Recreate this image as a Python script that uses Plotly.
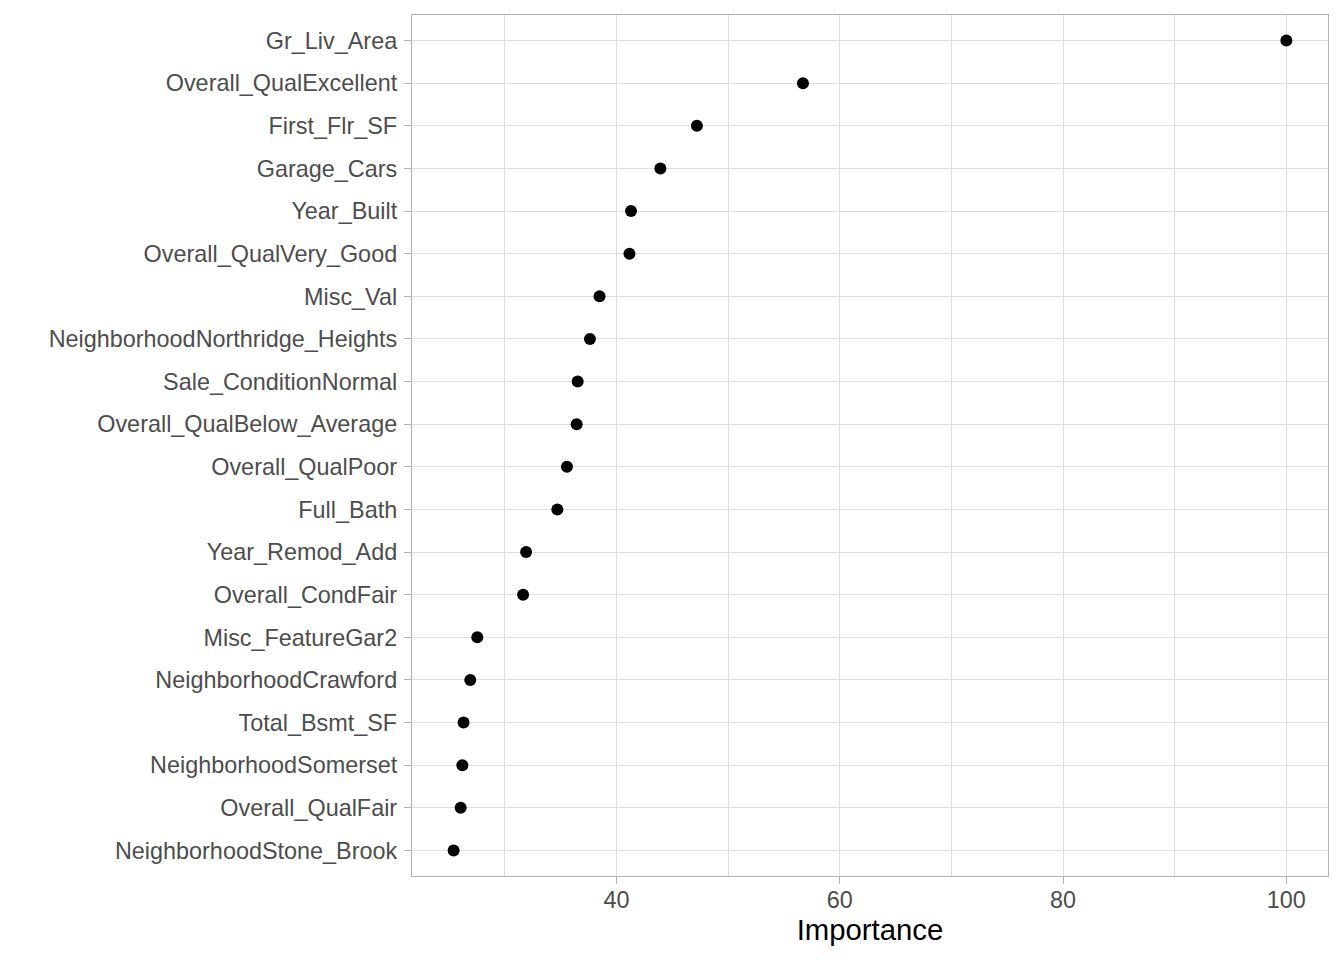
import plotly.graph_objects as go

features = [
    "Gr_Liv_Area", "Overall_QualExcellent", "First_Flr_SF", "Garage_Cars",
    "Year_Built", "Overall_QualVery_Good", "Misc_Val",
    "NeighborhoodNorthridge_Heights", "Sale_ConditionNormal",
    "Overall_QualBelow_Average", "Overall_QualPoor", "Full_Bath",
    "Year_Remod_Add", "Overall_CondFair", "Misc_FeatureGar2",
    "NeighborhoodCrawford", "Total_Bsmt_SF", "NeighborhoodSomerset",
    "Overall_QualFair", "NeighborhoodStone_Brook",
]
importance = [
    100.0, 56.70, 47.20, 43.93, 41.30, 41.16, 38.48, 37.62, 36.52, 36.43,
    35.56, 34.70, 31.90, 31.63, 27.53, 26.90, 26.30, 26.19, 26.04, 25.41,
]
x_ticks = [40, 60, 80, 100]
x_minor = [30, 50, 70, 90]

lo, hi = min(importance), max(importance)
pad = 0.05 * (hi - lo)
order_bottom_up = features[::-1]

fig = go.Figure(go.Scatter(
    x=importance, y=features, mode="markers",
    marker=dict(color="black", size=12, line=dict(width=0)),
    hoverinfo="x+y",
))

fig.update_layout(
    width=1344, height=960,
    margin=dict(l=412, r=16, t=15, b=84),
    paper_bgcolor="white", plot_bgcolor="white",
    font=dict(family="Liberation Sans, Arial, sans-serif", color="#4D4D4D"),
    showlegend=False,
)
fig.update_xaxes(
    range=[lo - pad, hi + pad],
    tickmode="array", tickvals=x_ticks, ticktext=[str(v) for v in x_ticks],
    tickfont=dict(size=23.4, color="#4D4D4D"),
    ticks="outside", ticklen=7, tickwidth=1.3, tickcolor="#B3B3B3",
    ticklabelstandoff=-4,
    showgrid=True, gridcolor="#DEDEDE", gridwidth=1.4,
    minor=dict(tickvals=x_minor, showgrid=True, gridcolor="#DEDEDE",
               gridwidth=0.8, ticks=""),
    showline=True, linecolor="#B3B3B3", linewidth=1.3, mirror=True,
    zeroline=False,
    title=dict(text="Importance", font=dict(size=29.3, color="black"),
               standoff=4),
)
fig.update_yaxes(
    type="category", categoryorder="array", categoryarray=order_bottom_up,
    range=[-0.6, len(features) - 0.4],
    tickfont=dict(size=23.4, color="#4D4D4D"),
    ticks="outside", ticklen=7, tickwidth=1.3, tickcolor="#B3B3B3",
    ticklabelstandoff=2,
    showgrid=True, gridcolor="#DEDEDE", gridwidth=1.4,
    showline=True, linecolor="#B3B3B3", linewidth=1.3, mirror=True,
    zeroline=False,
)

fig.write_html(
    "out.html",
    config={"displayModeBar": False},
    post_script="document.body.style.margin='0';document.body.style.padding='0';"
                "window.dispatchEvent(new Event('resize'));",
)
